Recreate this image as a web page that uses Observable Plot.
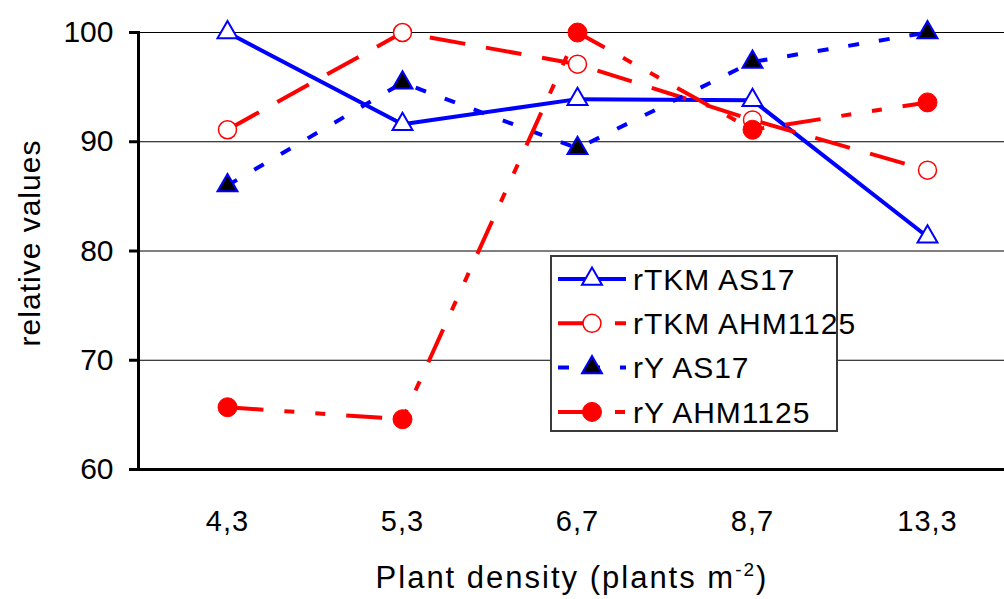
<!DOCTYPE html>
<html><head><meta charset="utf-8">
<script src="https://cdn.jsdelivr.net/npm/d3@7"></script>
<script src="https://cdn.jsdelivr.net/npm/@observablehq/plot@0.6"></script>
<style>
body{margin:0;background:#fff;font-family:"Liberation Sans",Arial,sans-serif}
#wrap{position:relative;width:1004px;height:599px;overflow:hidden}
#legend{position:absolute;left:550px;top:255px;width:288px;height:177px;border:2px solid #3a3a3a;background:#fff;box-sizing:border-box;overflow:visible}
#legend svg{overflow:visible}
</style></head><body><div id="wrap"></div>
<script>
// ---- data ----
const densities = ["4,3", "5,3", "6,7", "8,7", "13,3"];
const rTKM_AS17 = [100, 91.6, 93.9, 93.8, 81.3];
const rTKM_AHM1125 = [91.1, 100, 97.1, 92.0, 87.4];
const rY_AS17 = [86.0, 95.4, 89.4, 97.3, 100];
const rY_AHM1125 = [65.7, 64.6, 100, 91.1, 93.6];
const seriesNames = ["rTKM AS17", "rTKM AHM1125", "rY AS17", "rY AHM1125"];
const yTicks = [60, 70, 80, 90, 100];
const gridValues = [70, 80, 90, 100];
const yTitle = "relative values";
const xTitleMain = "Plant density (plants m";
const xTitleSup = "-2";
const xTitleEnd = ")";

// ---- styles ----
const styles = {
  "rTKM AS17":    {stroke: "#0000ff", dash: null, symbol: "triangle", r: 7.4, fill: "#ffffff", mstroke: "#0000ff", msw: 2},
  "rTKM AHM1125": {stroke: "#ff0000", dash: "36,21", symbol: "circle", r: 9, fill: "#ffffff", mstroke: "#ff0000", msw: 1.5},
  "rY AS17":      {stroke: "#0000ff", dash: "11,20", symbol: "triangle", r: 7.4, fill: "#000000", mstroke: "#0000ff", msw: 2},
  "rY AHM1125":   {stroke: "#ff0000", dash: "36,21,10,21,10,21", symbol: "circle", r: 9.5, fill: "#ff0000", mstroke: "#ff0000", msw: 1}
};
const seriesValues = [rTKM_AS17, rTKM_AHM1125, rY_AS17, rY_AHM1125];
const table = seriesNames.map((name, i) => densities.map((d, j) => ({series: name, density: d, value: seriesValues[i][j]})));

const lineMarks = table.map((rows, i) => {
  const s = styles[seriesNames[i]];
  return Plot.line(rows, {x: "density", y: "value", stroke: s.stroke, strokeWidth: 4, strokeDasharray: s.dash, strokeLinecap: "butt", strokeLinejoin: "miter"});
});
const dotMarks = table.map((rows, i) => {
  const s = styles[seriesNames[i]];
  return Plot.dot(rows, {x: "density", y: "value", symbol: s.symbol, r: s.r, fill: s.fill, stroke: s.mstroke, strokeWidth: s.msw});
});

const chart = Plot.plot({
  width: 1004,
  height: 599,
  marginLeft: 138,
  marginRight: -11.5,
  marginTop: 32,
  marginBottom: 130,
  style: {fontFamily: "'Liberation Sans', Arial, sans-serif", fontSize: "29px", color: "#000", background: "#fff"},
  x: {type: "point", domain: densities, padding: 0.5},
  y: {domain: [60, 100]},
  marks: [
    Plot.ruleY(gridValues, {stroke: "#000", strokeWidth: 1}),
    Plot.frame({anchor: "left", stroke: "#000", strokeWidth: 3}),
    Plot.ruleY([60], {stroke: "#000", strokeWidth: 3}),
    Plot.axisY({ticks: yTicks, tickSize: 9, tickPadding: 16, strokeWidth: 3, fontSize: 30, label: null}),
    Plot.axisX({tickSize: 0, tickPadding: 41, fontSize: 29, label: null}),
    ...lineMarks,
    ...dotMarks
  ]
});

const wrap = document.getElementById("wrap");
wrap.appendChild(chart);
const svg = d3.select(chart);
svg.selectAll('g[aria-label="x-axis tick label"] text').style("letter-spacing", "1px");

// y axis title
svg.append("text")
  .attr("transform", "translate(40,243) rotate(-90)")
  .attr("text-anchor", "middle")
  .attr("font-size", 30)
  .style("letter-spacing", "1px")
  .attr("fill", "#000")
  .text(yTitle);

// x axis title with superscript
const xt = svg.append("text")
  .attr("x", 572)
  .attr("y", 588)
  .attr("text-anchor", "middle")
  .attr("font-size", 31)
  .style("letter-spacing", "2px")
  .attr("fill", "#000");
xt.append("tspan").text(xTitleMain);
xt.append("tspan").attr("dy", -12).attr("font-size", 19).text(xTitleSup);
xt.append("tspan").attr("dy", 12).text(xTitleEnd);

// legend
const leg = d3.select(wrap).append("div").attr("id", "legend");
const lsvg = leg.append("svg").attr("width", 284).attr("height", 173).style("display", "block");
seriesNames.forEach((name, i) => {
  const s = styles[name];
  const cy = 22 + i * 44.3;
  const g = lsvg.append("g").attr("transform", `translate(0,${cy})`);
  g.append("line").attr("x1", 6).attr("x2", 74).attr("y1", 0).attr("y2", 0)
    .attr("stroke", s.stroke).attr("stroke-width", 4).attr("stroke-dasharray", s.dash);
  const sym = s.symbol === "triangle" ? d3.symbolTriangle : d3.symbolCircle;
  g.append("path").attr("transform", "translate(40,0)")
    .attr("d", d3.symbol(sym, Math.PI * s.r * s.r)())
    .attr("fill", s.fill).attr("stroke", s.mstroke).attr("stroke-width", s.msw);
  g.append("text").attr("x", 81).attr("y", 0).attr("dy", "0.36em")
    .attr("font-size", 30).style("letter-spacing", "1px").attr("fill", "#000").text(name);
});
</script></body></html>
